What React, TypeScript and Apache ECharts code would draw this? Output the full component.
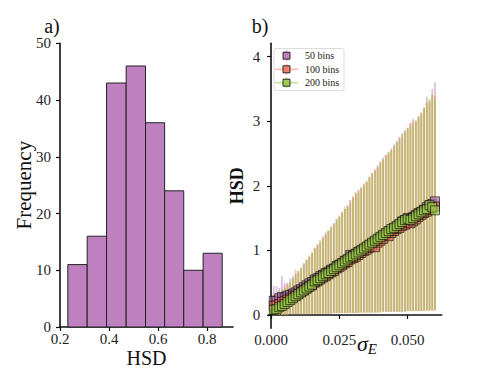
import React, { useEffect, useRef } from "react";
import * as echarts from "echarts";

// ---- Panel a) histogram ----
const histEdges = [0.232, 0.311, 0.39, 0.47, 0.549, 0.627, 0.705, 0.784, 0.862];
const histCounts = [11, 16, 43, 46, 36, 24, 10, 13];
const histTicks = [0.2, 0.4, 0.6, 0.8];

// ---- Panel b) HSD vs sigma_E ----
const sigmaE = [
  0.001, 0.002, 0.003, 0.004, 0.005, 0.006, 0.007, 0.008, 0.009, 0.01,
  0.011, 0.012, 0.013, 0.014, 0.015, 0.016, 0.017, 0.018, 0.019, 0.02,
  0.021, 0.022, 0.023, 0.024, 0.025, 0.026, 0.027, 0.028, 0.029, 0.03,
  0.031, 0.032, 0.033, 0.034, 0.035, 0.036, 0.037, 0.038, 0.039, 0.04,
  0.041, 0.042, 0.043, 0.044, 0.045, 0.046, 0.047, 0.048, 0.049, 0.05,
  0.051, 0.052, 0.053, 0.054, 0.055, 0.056, 0.057, 0.058, 0.059, 0.06,
];
const sigmaTicks = [0, 0.025, 0.05];
const hsdTicks = [0, 1, 2, 3, 4];

const mean50 = [
  0.22, 0.22, 0.26, 0.28, 0.27, 0.3, 0.31, 0.33, 0.35, 0.38,
  0.4, 0.43, 0.46, 0.49, 0.51, 0.55, 0.57, 0.6, 0.62, 0.65,
  0.67, 0.7, 0.72, 0.76, 0.78, 0.8, 0.84, 0.86, 0.93, 0.92,
  0.95, 0.98, 1.0, 1.02, 1.05, 1.08, 1.1, 1.13, 1.16, 1.19,
  1.22, 1.25, 1.28, 1.3, 1.34, 1.37, 1.4, 1.45, 1.47, 1.5,
  1.49, 1.52, 1.55, 1.58, 1.6, 1.63, 1.67, 1.7, 1.72, 1.76,
];
const mean100 = [
  0.14, 0.15, 0.17, 0.2, 0.22, 0.24, 0.26, 0.29, 0.3, 0.33,
  0.36, 0.38, 0.41, 0.44, 0.46, 0.5, 0.52, 0.55, 0.58, 0.6,
  0.63, 0.66, 0.68, 0.72, 0.74, 0.77, 0.8, 0.82, 0.86, 0.88,
  0.9, 0.93, 0.96, 0.99, 1.01, 1.04, 1.07, 1.05, 1.12, 1.15,
  1.18, 1.24, 1.22, 1.27, 1.3, 1.33, 1.35, 1.38, 1.4, 1.43,
  1.42, 1.45, 1.48, 1.52, 1.55, 1.58, 1.6, 1.63, 1.66, 1.68,
];
const mean200 = [
  0.08, 0.09, 0.12, 0.14, 0.17, 0.2, 0.23, 0.26, 0.29, 0.32,
  0.35, 0.38, 0.41, 0.44, 0.47, 0.52, 0.54, 0.57, 0.6, 0.63,
  0.65, 0.68, 0.71, 0.74, 0.77, 0.8, 0.83, 0.86, 0.89, 0.91,
  0.94, 0.97, 1.0, 1.03, 1.06, 1.09, 1.12, 1.15, 1.18, 1.21,
  1.24, 1.27, 1.3, 1.33, 1.35, 1.38, 1.41, 1.44, 1.47, 1.49,
  1.47, 1.5, 1.53, 1.56, 1.59, 1.62, 1.64, 1.7, 1.67, 1.62,
];

const upper50 = [
  0.45, 0.45, 0.42, 0.6, 0.5, 0.5, 0.56, 0.6, 0.64, 0.68,
  0.72, 0.8, 0.86, 0.9, 0.96, 1.04, 1.08, 1.14, 1.2, 1.28,
  1.3, 1.34, 1.42, 1.48, 1.52, 1.58, 1.64, 1.7, 1.78, 1.82,
  1.88, 1.94, 1.98, 2.02, 2.06, 2.14, 2.2, 2.24, 2.32, 2.36,
  2.44, 2.48, 2.52, 2.56, 2.64, 2.7, 2.76, 2.82, 2.86, 2.9,
  2.98, 3.04, 3.0, 3.08, 3.12, 3.2, 3.38, 3.3, 3.5, 3.6,
];
const upper100 = [
  0.32, 0.3, 0.34, 0.38, 0.44, 0.48, 0.5, 0.56, 0.7, 0.66,
  0.72, 0.78, 0.84, 0.92, 0.96, 1.04, 1.1, 1.12, 1.22, 1.24,
  1.3, 1.38, 1.42, 1.46, 1.54, 1.6, 1.64, 1.7, 1.76, 1.84,
  1.88, 1.92, 1.96, 2.04, 2.06, 2.14, 2.2, 2.26, 2.28, 2.38,
  2.4, 2.48, 2.5, 2.58, 2.6, 2.66, 2.74, 2.76, 2.84, 2.88,
  2.96, 3.0, 2.98, 3.06, 3.14, 3.2, 3.28, 3.32, 3.4, 3.4,
];
const upper200 = [
  0.3, 0.32, 0.36, 0.4, 0.42, 0.46, 0.52, 0.58, 0.62, 0.68,
  0.74, 0.8, 0.86, 0.9, 0.98, 1.02, 1.08, 1.16, 1.18, 1.25,
  1.32, 1.36, 1.4, 1.5, 1.52, 1.58, 1.68, 1.66, 1.74, 1.8,
  1.9, 1.88, 1.98, 2.0, 2.08, 2.12, 2.18, 2.22, 2.3, 2.36,
  2.42, 2.46, 2.52, 2.54, 2.62, 2.68, 2.72, 2.8, 2.82, 2.9,
  2.92, 2.96, 3.02, 3.08, 3.12, 3.22, 3.3, 3.35, 3.42, 3.35,
];

const lower50 = [
  0.0, 0.0, 0.0, 0.0, 0.0, 0.01, 0.01, 0.01, 0.01, 0.01,
  0.01, 0.01, 0.02, 0.02, 0.02, 0.02, 0.02, 0.02, 0.02, 0.02,
  0.02, 0.03, 0.03, 0.03, 0.03, 0.03, 0.03, 0.03, 0.03, 0.03,
  0.03, 0.04, 0.04, 0.04, 0.04, 0.04, 0.04, 0.04, 0.04, 0.05,
  0.05, 0.05, 0.05, 0.05, 0.05, 0.05, 0.05, 0.05, 0.06, 0.06,
  0.06, 0.06, 0.06, 0.06, 0.06, 0.07, 0.07, 0.07, 0.07, 0.07,
];
const lower100 = [
  0.0, 0.0, 0.0, 0.0, 0.0, 0.0, 0.01, 0.01, 0.01, 0.01,
  0.01, 0.01, 0.01, 0.02, 0.02, 0.02, 0.02, 0.02, 0.02, 0.02,
  0.02, 0.02, 0.03, 0.03, 0.03, 0.03, 0.03, 0.03, 0.03, 0.03,
  0.03, 0.03, 0.04, 0.04, 0.04, 0.04, 0.04, 0.04, 0.04, 0.04,
  0.05, 0.05, 0.05, 0.05, 0.05, 0.05, 0.05, 0.05, 0.05, 0.06,
  0.06, 0.06, 0.06, 0.06, 0.06, 0.06, 0.07, 0.07, 0.07, 0.07,
];
const lower200 = [
  0.0, 0.0, 0.0, 0.0, 0.0, 0.0, 0.01, 0.01, 0.01, 0.01,
  0.01, 0.01, 0.01, 0.02, 0.02, 0.02, 0.02, 0.02, 0.02, 0.02,
  0.02, 0.02, 0.03, 0.03, 0.03, 0.03, 0.03, 0.03, 0.03, 0.03,
  0.03, 0.03, 0.04, 0.04, 0.04, 0.04, 0.04, 0.04, 0.04, 0.04,
  0.05, 0.05, 0.05, 0.05, 0.05, 0.05, 0.05, 0.05, 0.05, 0.06,
  0.06, 0.06, 0.06, 0.06, 0.06, 0.06, 0.07, 0.07, 0.07, 0.08,
];

const seriesNames = ["50 bins", "100 bins", "200 bins"];

const FONT = "Liberation Serif";

const markerColors = ["rgba(176,112,176,0.85)", "rgba(240,112,96,0.85)", "rgba(150,196,72,0.85)"];
const errColors = ["rgba(192,128,192,0.5)", "rgba(250,128,114,0.5)", "rgba(154,205,50,0.5)"];

export default function App() {
  const ref = useRef<HTMLDivElement>(null);

  useEffect(() => {
    if (!ref.current) return;
    const chart = echarts.init(ref.current, undefined, { renderer: "svg" });

    const means = [mean50, mean100, mean200];
    const uppers = [upper50, upper100, upper200];
    const lowers = [lower50, lower100, lower200];

    const axisLine = { show: true, lineStyle: { color: "#111", width: 1.6 } };
    const axisTick = { show: true, inside: false, length: 4, lineStyle: { color: "#111", width: 1.2 } };
    const labelStyle = { fontFamily: FONT, fontSize: 15, lineHeight: 15, color: "#222" };

    const histData = histCounts.map((c, i) => [histEdges[i], histEdges[i + 1], c]);

    const errSeries = means.map((_, k) => ({
      type: "custom",
      name: seriesNames[k] + " err",
      xAxisIndex: 1,
      yAxisIndex: 1,
      z: 2,
      clip: true,
      data: sigmaE.map((s, i) => [s, lowers[k][i], uppers[k][i]]),
      encode: { x: 0, y: [1, 2] },
      renderItem: (params: any, api: any) => {
        const x = api.value(0);
        const lo = api.coord([x, api.value(1)]);
        const hi = api.coord([x, api.value(2)]);
        return {
          type: "line",
          shape: { x1: lo[0], y1: lo[1], x2: hi[0], y2: hi[1] },
          style: { stroke: errColors[k], lineWidth: 1.8 },
        };
      },
    }));

    const markerSeries = means.map((m, k) => ({
      type: "scatter",
      name: seriesNames[k],
      xAxisIndex: 1,
      yAxisIndex: 1,
      z: 5,
      symbol: "rect",
      symbolSize: 9,
      data: sigmaE.map((s, i) => [s, m[i]]),
      itemStyle: { color: markerColors[k], borderColor: "rgba(0,0,0,0.75)", borderWidth: 1 },
    }));

    // legend drawn as graphic
    const legX = 274;
    const legRows = [55.7, 69.3, 82.7];
    const legendEls: any[] = [
      {
        type: "rect",
        shape: { x: legX, y: 48.5, width: 70, height: 42, r: 2 },
        style: { fill: "rgba(255,255,255,0.85)", stroke: "#dcdcdc", lineWidth: 1 },
        z: 10,
      },
    ];
    legRows.forEach((yy, k) => {
      if (k > 0) {
        legendEls.push({
          type: "line",
          shape: { x1: 275, y1: yy, x2: 298, y2: yy },
          style: { stroke: errColors[k], lineWidth: 1.8 },
          z: 11,
        });
      }
      legendEls.push({
        type: "line",
        shape: { x1: 286.5, y1: yy - 5.5, x2: 286.5, y2: yy + 5.5 },
        style: { stroke: errColors[k], lineWidth: 1.8 },
        z: 11,
      });
      legendEls.push({
        type: "rect",
        shape: { x: 283, y: yy - 3.5, width: 7, height: 7 },
        style: { fill: markerColors[k], stroke: "rgba(0,0,0,0.8)", lineWidth: 1 },
        z: 12,
      });
      legendEls.push({
        type: "text",
        x: 305,
        y: yy,
        style: { text: seriesNames[k], fontFamily: FONT, fontSize: 10, fill: "#222", textVerticalAlign: "middle" },
        z: 12,
      });
    });

    chart.setOption({
      animation: false,
      grid: [
        { left: 60, top: 43.3, width: 173, height: 283.7, outerBoundsMode: "none", containLabel: false },
        { left: 268.3, top: 43.3, width: 173.4, height: 285, outerBoundsMode: "none", containLabel: false },
      ],
      xAxis: [
        {
          type: "value",
          gridIndex: 0,
          min: 0.2,
          max: 0.906,
          splitLine: { show: false },
          axisLine,
          axisTick: { ...axisTick, customValues: histTicks },
          axisLabel: { ...labelStyle, margin: 4, customValues: histTicks, formatter: (v: number) => v.toFixed(1) },
          name: "HSD",
          nameLocation: "middle",
          nameGap: 20.5,
          nameMoveOverlap: false,
          nameTextStyle: { fontFamily: FONT, fontSize: 20, lineHeight: 20, color: "#111" },
        },
        {
          type: "value",
          gridIndex: 1,
          min: -0.001,
          max: 0.06245,
          splitLine: { show: false },
          axisLine,
          axisTick: { ...axisTick, customValues: sigmaTicks },
          axisLabel: { ...labelStyle, margin: 4, customValues: sigmaTicks, formatter: (v: number) => v.toFixed(3) },
          name: "{s|σ}{e|E}",
          nameLocation: "middle",
          nameGap: 3,
          nameMoveOverlap: false,
          nameTextStyle: {
            padding: [0, 0, 0, 24],
            rich: {
              s: { fontFamily: FONT, fontSize: 22, fontStyle: "italic", color: "#111" },
              e: { fontFamily: FONT, fontSize: 15, fontStyle: "italic", color: "#111", padding: [10, 0, 0, 0] },
            },
          },
        },
      ],
      yAxis: [
        {
          type: "value",
          gridIndex: 0,
          min: 0,
          max: 50,
          interval: 10,
          splitLine: { show: false },
          axisLine,
          axisTick,
          axisLabel: { ...labelStyle, margin: 9 },
          name: "Frequency",
          nameLocation: "middle",
          nameGap: 26,
          nameMoveOverlap: false,
          nameTextStyle: { fontFamily: FONT, fontSize: 21, color: "#111" },
        },
        {
          type: "value",
          gridIndex: 1,
          min: -0.206,
          max: 4.2075,
          splitLine: { show: false },
          axisLine,
          axisTick: { ...axisTick, customValues: hsdTicks },
          axisLabel: { ...labelStyle, margin: 8, customValues: hsdTicks, formatter: (v: number) => String(v) },
          name: "HSD",
          nameLocation: "middle",
          nameGap: 22,
          nameMoveOverlap: false,
          nameTextStyle: { fontFamily: FONT, fontSize: 18, fontWeight: "bold", color: "#111" },
        },
      ],
      graphic: [
        {
          type: "text",
          x: 52,
          y: 26,
          style: { text: "a)", fontFamily: FONT, fontSize: 20, fill: "#111", textAlign: "center", textVerticalAlign: "middle" },
        },
        {
          type: "text",
          x: 260,
          y: 26,
          style: { text: "b)", fontFamily: FONT, fontSize: 20, fill: "#111", textAlign: "center", textVerticalAlign: "middle" },
        },
        ...legendEls,
      ],
      series: [
        {
          type: "custom",
          name: "Frequency",
          xAxisIndex: 0,
          yAxisIndex: 0,
          data: histData,
          encode: { x: [0, 1], y: 2 },
          renderItem: (params: any, api: any) => {
            const p0 = api.coord([api.value(0), api.value(2)]);
            const p1 = api.coord([api.value(1), 0]);
            return {
              type: "rect",
              shape: { x: p0[0], y: p0[1], width: p1[0] - p0[0], height: p1[1] - p0[1] },
              style: { fill: "#bf80bf", stroke: "#222", lineWidth: 1 },
            };
          },
        },
        ...errSeries,
        ...markerSeries,
      ],
    });

    return () => chart.dispose();
  }, []);

  return (
    <div
      ref={ref}
      style={{ position: "absolute", left: 0, top: 0, width: 490, height: 368, background: "#fff" }}
    />
  );
}
